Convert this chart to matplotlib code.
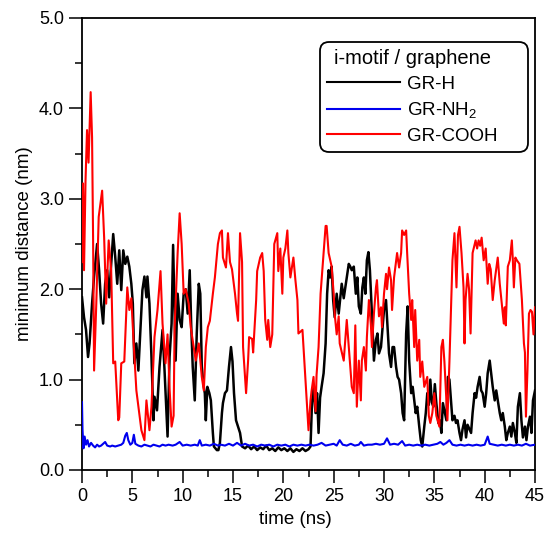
import matplotlib
matplotlib.use("Agg")
import matplotlib.pyplot as plt
from matplotlib.ticker import MultipleLocator, FormatStrFormatter
from matplotlib.patches import FancyBboxPatch
from matplotlib.transforms import IdentityTransform

# ---------------- data ----------------
t_grh = [0.0, 0.2, 0.4, 0.6, 0.75, 1.0, 1.2, 1.5, 1.7, 1.9, 2.1, 2.3, 2.5, 2.7, 2.9, 3.1, 3.3, 3.5, 3.7, 3.9,
         4.1, 4.3, 4.5, 4.7, 4.9, 5.05, 5.2, 5.4, 5.6, 5.8, 6.0, 6.2, 6.4, 6.5, 6.7, 6.9, 7.1, 7.2, 7.45, 7.7,
         8.0, 8.2, 8.5, 8.7, 8.9, 9.05, 9.3, 9.5, 9.7, 9.9, 10.1, 10.3, 10.5, 10.7, 10.85, 11.0, 11.2, 11.4, 11.6, 11.75,
         11.9, 12.1, 12.2, 12.3, 12.45, 12.65, 12.8, 13.0, 13.1, 13.4, 13.55, 13.7, 13.9, 14.0, 14.2, 14.4, 14.6, 14.8, 14.95, 15.1,
         15.3, 15.5, 15.7, 15.9, 16.2, 16.5, 16.8, 17.1, 17.4, 17.7, 18.0, 18.3, 18.6, 18.9, 19.2, 19.5, 19.8, 20.1, 20.4, 20.7,
         21.0, 21.3, 21.6, 21.9, 22.2, 22.5, 22.7, 22.85, 23.0, 23.2, 23.35, 23.5, 23.65, 23.8, 24.0, 24.2, 24.35, 24.5, 24.65, 24.8,
         24.95, 25.1, 25.3, 25.5, 25.8, 26.0, 26.2, 26.5, 26.65, 26.8, 27.0, 27.2, 27.35, 27.5, 27.7, 27.85, 28.0, 28.15, 28.3, 28.45,
         28.6, 28.8, 29.0, 29.2, 29.35, 29.5, 29.7, 30.0, 30.2, 30.35, 30.5, 30.7, 30.85, 31.0, 31.2, 31.35, 31.5, 31.7, 31.85, 32.0,
         32.2, 32.35, 32.5, 32.7, 32.85, 33.0, 33.15, 33.3, 33.5, 33.65, 33.8, 34.0, 34.15, 34.3, 34.45, 34.6, 34.75, 34.9, 35.05, 35.2,
         35.4, 35.55, 35.7, 35.85, 36.0, 36.2, 36.35, 36.5, 36.65, 36.8, 37.0, 37.15, 37.3, 37.5, 37.65, 37.8, 38.0, 38.15, 38.3, 38.5,
         38.65, 38.8, 39.0, 39.15, 39.3, 39.5, 39.65, 39.8, 40.0, 40.15, 40.3, 40.5, 40.65, 40.8, 41.0, 41.15, 41.3, 41.5, 41.65, 41.8,
         42.0, 42.15, 42.3, 42.5, 42.65, 42.8, 43.0, 43.15, 43.3, 43.5, 43.65, 43.8, 44.0, 44.15, 44.3, 44.5, 44.65, 44.8, 45.0]
v_grh = [1.91, 1.69, 1.55, 1.25, 1.40, 1.84, 2.14, 2.50, 2.21, 1.84, 1.62, 2.06, 2.21, 1.91, 2.28, 2.61, 2.36, 2.06, 2.43, 1.99,
         2.43, 2.28, 2.36, 2.25, 2.06, 1.84, 1.18, 1.40, 1.10, 1.55, 1.99, 2.14, 1.91, 2.14, 1.84, 1.25, 0.55, 0.81, 0.66, 1.14,
         1.55, 1.10, 0.37, 1.25, 1.62, 2.49, 1.21, 1.95, 1.66, 1.58, 1.95, 2.00, 1.73, 2.21, 1.60, 1.14, 0.77, 1.51, 2.06, 1.95,
         1.14, 0.92, 0.85, 0.55, 0.92, 0.85, 0.77, 0.41, 0.26, 0.22, 0.22, 0.30, 0.63, 0.74, 0.85, 0.88, 1.14, 1.36, 1.20, 0.85,
         0.55, 0.48, 0.41, 0.26, 0.24, 0.27, 0.23, 0.26, 0.22, 0.25, 0.23, 0.27, 0.22, 0.24, 0.21, 0.25, 0.22, 0.24, 0.21, 0.24,
         0.20, 0.23, 0.21, 0.24, 0.21, 0.23, 0.26, 0.75, 0.92, 0.63, 0.85, 0.41, 0.80, 0.92, 1.07, 1.40, 1.95, 2.21, 2.13, 2.25,
         1.88, 1.69, 1.95, 1.73, 2.06, 1.90, 2.05, 2.28, 2.25, 2.21, 2.25, 1.95, 2.13, 1.81, 1.73, 2.02, 2.13, 1.95, 2.32, 2.41,
         2.21, 1.73, 1.21, 1.44, 1.51, 1.29, 1.36, 1.77, 1.88, 1.58, 1.29, 1.14, 1.36, 1.36, 1.14, 1.03, 1.00, 0.85, 0.63, 0.55,
         1.51, 1.81, 1.21, 0.85, 0.92, 0.77, 0.63, 0.70, 0.48, 0.33, 0.26, 0.48, 0.63, 0.85, 0.72, 1.00, 0.75, 0.70, 0.95, 0.74,
         0.52, 0.55, 0.41, 0.74, 0.66, 0.55, 1.03, 1.00, 0.77, 0.55, 0.60, 0.52, 0.55, 0.41, 0.33, 0.45, 0.55, 0.36, 0.50, 0.45,
         0.41, 0.63, 0.85, 0.80, 0.92, 1.03, 0.88, 0.85, 0.70, 0.85, 1.07, 1.21, 1.07, 0.92, 0.77, 0.88, 0.77, 0.63, 0.55, 0.63,
         0.48, 0.33, 0.41, 0.48, 0.37, 0.52, 0.41, 0.30, 0.70, 0.85, 0.55, 0.36, 0.48, 0.33, 0.48, 0.59, 0.41, 0.77, 0.88]

t_grnh2 = [0.0, 0.05, 0.15, 0.26, 0.4, 0.55, 0.7, 0.9, 1.1, 1.3, 1.5, 1.7, 1.9, 2.1, 2.3, 2.5, 2.8, 3.0, 3.3, 3.6,
           3.9, 4.1, 4.3, 4.45, 4.6, 4.8, 5.0, 5.15, 5.3, 5.6, 5.9, 6.2, 6.5, 6.8, 7.1, 7.4, 7.7, 8.0, 8.3, 8.6,
           9.0, 9.3, 9.7, 10.0, 10.4, 10.8, 11.2, 11.5, 11.7, 11.9, 12.3, 12.7, 13.1, 13.5, 13.8, 14.2, 14.6, 15.0, 15.4, 15.8,
           16.2, 16.6, 17.0, 17.4, 17.8, 18.2, 18.6, 19.0, 19.4, 19.8, 20.2, 20.6, 21.0, 21.4, 21.8, 22.2, 22.6, 23.0, 23.4, 23.8,
           24.2, 24.6, 25.0, 25.3, 25.6, 25.9, 26.3, 26.7, 27.1, 27.5, 27.7, 28.0, 28.4, 28.8, 29.2, 29.6, 30.0, 30.3, 30.6, 31.0,
           31.4, 31.8, 32.1, 32.5, 32.9, 33.3, 33.7, 34.1, 34.5, 34.9, 35.3, 35.6, 35.9, 36.2, 36.5, 36.8, 37.2, 37.6, 38.0, 38.4,
           38.8, 39.2, 39.6, 40.0, 40.3, 40.5, 40.9, 41.3, 41.7, 42.1, 42.5, 42.9, 43.3, 43.7, 44.1, 44.5, 45.0]
v_grnh2 = [0.75, 0.45, 0.24, 0.37, 0.28, 0.33, 0.26, 0.30, 0.27, 0.25, 0.28, 0.26, 0.27, 0.29, 0.31, 0.27, 0.26, 0.27, 0.26, 0.27,
           0.28, 0.30, 0.38, 0.41, 0.33, 0.28, 0.30, 0.39, 0.29, 0.27, 0.26, 0.28, 0.27, 0.26, 0.28, 0.27, 0.26, 0.28, 0.27, 0.28,
           0.27, 0.28, 0.31, 0.27, 0.28, 0.27, 0.28, 0.27, 0.33, 0.27, 0.28, 0.27, 0.29, 0.27, 0.28, 0.27, 0.29, 0.27, 0.30, 0.27,
           0.29, 0.27, 0.28, 0.26, 0.28, 0.27, 0.28, 0.26, 0.28, 0.27, 0.28, 0.26, 0.28, 0.27, 0.28, 0.27, 0.28, 0.27, 0.28, 0.30,
           0.27, 0.28, 0.29, 0.27, 0.33, 0.28, 0.27, 0.29, 0.27, 0.28, 0.31, 0.27, 0.28, 0.28, 0.29, 0.28, 0.29, 0.35, 0.28, 0.29,
           0.28, 0.32, 0.27, 0.28, 0.27, 0.28, 0.27, 0.28, 0.27, 0.28, 0.29, 0.31, 0.28, 0.30, 0.33, 0.28, 0.27, 0.28, 0.27, 0.28,
           0.27, 0.28, 0.27, 0.28, 0.37, 0.29, 0.28, 0.27, 0.28, 0.27, 0.28, 0.27, 0.28, 0.27, 0.29, 0.27, 0.28]

t_grcooh = [0.0, 0.1, 0.2, 0.35, 0.5, 0.65, 0.86, 1.0, 1.1, 1.2, 1.42, 1.66, 2.0, 2.2, 2.4, 2.65, 2.9, 3.1, 3.3, 3.6,
            3.7, 3.9, 4.2, 4.5, 4.7, 4.9, 5.1, 5.4, 5.9, 6.2, 6.4, 6.7, 6.9, 7.2, 7.5, 7.8, 8.0, 8.3, 8.5, 8.7,
            8.9, 9.1, 9.2, 9.5, 9.7, 9.9, 10.1, 10.3, 10.6, 10.8, 11.1, 11.3, 11.6, 11.9, 12.1, 12.3, 12.5, 12.7, 13.0, 13.2,
            13.5, 13.7, 13.9, 14.0, 14.3, 14.5, 14.7, 14.9, 15.2, 15.4, 15.5, 15.7, 15.9, 16.0, 16.3, 16.5, 16.6, 16.9, 17.0, 17.3,
            17.4, 17.7, 17.9, 18.05, 18.2, 18.4, 18.5, 18.7, 18.9, 19.1, 19.4, 19.5, 19.7, 19.9, 20.0, 20.2, 20.4, 20.5, 20.7, 21.0,
            21.2, 21.4, 21.5, 21.9, 22.2, 22.4, 22.5, 22.7, 22.8, 23.0, 23.2, 23.3, 23.5, 23.7, 23.8, 24.0, 24.2, 24.3, 24.5, 24.8,
            25.0, 25.1, 25.3, 25.5, 25.6, 26.0, 26.1, 26.3, 26.6, 26.8, 27.0, 27.15, 27.3, 27.5, 27.7, 27.8, 28.0, 28.2, 28.3, 28.5,
            28.7, 28.8, 29.0, 29.2, 29.3, 29.5, 29.7, 29.8, 30.0, 30.2, 30.3, 30.5, 30.7, 30.8, 31.0, 31.3, 31.5, 31.7, 31.8, 32.0,
            32.2, 32.3, 32.5, 32.7, 32.8, 33.0, 33.1, 33.3, 33.5, 33.6, 33.8, 34.0, 34.3, 34.45, 34.6, 34.8, 35.0, 35.2, 35.5, 35.7,
            35.85, 36.0, 36.3, 36.5, 36.8, 37.0, 37.2, 37.35, 37.5, 37.7, 37.9, 38.0, 38.1, 38.3, 38.45, 38.6, 38.8, 39.1, 39.25, 39.4,
            39.55, 39.7, 39.9, 40.1, 40.3, 40.45, 40.6, 40.8, 41.0, 41.3, 41.5, 41.7, 41.9, 42.0, 42.1, 42.3, 42.5, 42.7, 42.8, 42.9,
            43.05, 43.2, 43.45, 43.7, 43.9, 44.0, 44.1, 44.25, 44.4, 44.55, 44.7, 44.85, 45.0]
v_grcooh = [2.30, 3.17, 2.21, 3.20, 3.76, 3.40, 4.18, 3.68, 2.58, 1.10, 1.84, 2.80, 3.09, 2.57, 1.84, 2.54, 2.20, 1.18, 1.20, 0.55,
            0.58, 1.18, 1.20, 2.02, 1.77, 1.90, 1.47, 0.88, 0.44, 0.33, 0.77, 0.44, 0.70, 1.47, 1.77, 2.20, 1.62, 1.18, 1.50, 0.90,
            0.48, 0.60, 1.58, 2.40, 2.84, 2.50, 1.95, 2.00, 1.84, 1.58, 1.36, 1.21, 1.40, 1.03, 0.88, 1.36, 1.58, 1.65, 1.95, 2.13,
            2.50, 2.62, 2.65, 2.35, 2.24, 2.62, 2.30, 2.22, 1.95, 1.73, 1.65, 2.62, 2.30, 1.36, 0.85, 1.21, 1.47, 1.45, 1.30, 1.88,
            2.20, 2.35, 2.40, 2.20, 1.66, 1.44, 1.66, 1.36, 1.50, 2.50, 2.62, 2.20, 2.45, 1.95, 2.35, 2.45, 2.65, 2.40, 2.13, 2.35,
            2.10, 1.88, 1.51, 1.55, 1.00, 0.63, 0.44, 0.77, 0.87, 1.03, 0.65, 1.05, 1.36, 1.95, 2.10, 2.40, 2.70, 2.70, 2.40, 2.25,
            1.95, 1.73, 1.50, 1.70, 1.40, 1.21, 1.36, 1.66, 1.21, 0.92, 0.85, 1.60, 0.70, 1.21, 0.77, 1.21, 1.36, 1.10, 1.47, 1.88,
            1.60, 1.36, 1.73, 2.02, 2.10, 1.70, 1.80, 1.58, 1.95, 2.17, 2.00, 2.24, 2.10, 1.77, 2.13, 2.40, 2.24, 2.40, 2.65, 2.60,
            2.65, 2.40, 1.95, 1.66, 1.88, 1.36, 1.77, 1.21, 1.44, 1.03, 1.20, 0.92, 1.03, 0.60, 0.52, 0.63, 0.85, 0.60, 0.48, 1.36,
            1.44, 1.20, 0.55, 1.20, 2.32, 2.62, 2.02, 2.60, 2.69, 2.40, 2.02, 1.40, 1.88, 2.17, 2.00, 1.51, 2.40, 2.54, 2.45, 2.54,
            2.48, 2.57, 2.32, 2.45, 2.06, 2.28, 2.22, 1.88, 2.10, 2.35, 2.06, 1.84, 1.62, 1.80, 1.60, 2.25, 2.32, 2.54, 2.32, 2.02,
            2.35, 2.32, 2.28, 1.88, 1.40, 1.30, 0.59, 1.10, 1.73, 1.77, 1.75, 1.50, 1.80]

series_labels = ["GR-H", "GR-NH$_2$", "GR-COOH"]
legend_title = "i-motif / graphene"
x_label = "time (ns)"
y_label = "minimum distance (nm)"

# ---------------- plot ----------------
plt.rcParams['font.family'] = ['Liberation Sans', 'DejaVu Sans']
plt.rcParams['mathtext.fontset'] = 'custom'
plt.rcParams['mathtext.rm'] = 'Liberation Sans'
plt.rcParams['mathtext.it'] = 'Liberation Sans'
plt.rcParams['mathtext.default'] = 'regular'

W, H = 545, 537
fig = plt.figure(figsize=(W/100, H/100), dpi=100)
ax = fig.add_axes([82/W, 1 - 470/H, (535-82)/W, (470-18)/H])

ax.plot(t_grh, v_grh, color='black', lw=1.8, label=series_labels[0], zorder=2)
ax.plot(t_grnh2, v_grnh2, color='#0000ee', lw=1.5, label=series_labels[1], zorder=3)
ax.plot(t_grcooh, v_grcooh, color='#ff0000', lw=1.5, label=series_labels[2], zorder=4)

ax.set_xlim(0, 45)
ax.set_ylim(0, 5.0)
ax.xaxis.set_major_locator(MultipleLocator(5))
ax.xaxis.set_minor_locator(MultipleLocator(2.5))
ax.yaxis.set_major_locator(MultipleLocator(1.0))
ax.yaxis.set_minor_locator(MultipleLocator(0.5))
ax.yaxis.set_major_formatter(FormatStrFormatter('%.1f'))

ax.tick_params(which='major', direction='out', length=9.5, width=1.1, labelsize=13, pad=3.5, colors='black')
ax.tick_params(which='minor', direction='out', length=5, width=1.1)
for s in ax.spines.values():
    s.set_linewidth(1.3)

ax.set_xlabel(x_label, fontsize=13.5)
ax.set_ylabel(y_label, fontsize=13.5)
ax.xaxis.set_label_coords(0.47, -0.09)
ax.yaxis.set_label_coords(-0.108, 0.5)

# rounded legend frame (drawn inside the axes, below the legend contents)
box = FancyBboxPatch((320, H - 152), 208, 110, boxstyle="round,pad=0,rounding_size=9",
                     transform=IdentityTransform(), facecolor='white', edgecolor='black',
                     linewidth=1.3, zorder=9, clip_on=False)
ax.add_patch(box)

leg = ax.legend(title=legend_title, loc='upper left',
                bbox_to_anchor=((327-82)/453, (470-49)/452),
                borderaxespad=0, borderpad=0, fontsize=13.5, title_fontsize=14.5,
                handlelength=3.9, handletextpad=0.35, labelspacing=0.4,
                frameon=False)
for line in leg.get_lines():
    line.set_linewidth(1.5)
leg.set_zorder(10)

fig.savefig('out.png', dpi=100)
